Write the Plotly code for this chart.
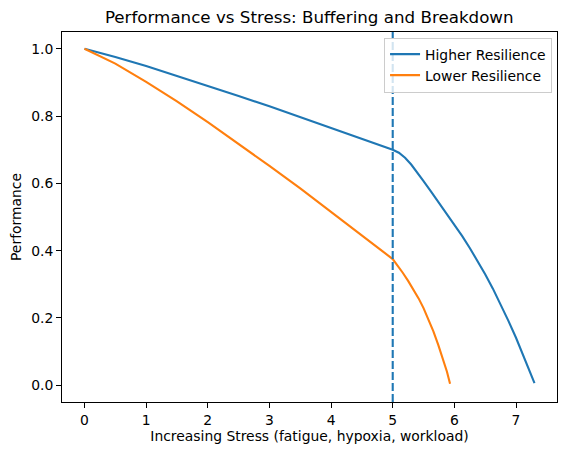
import plotly.graph_objects as go

stress_high = [0, 0.5, 1, 1.5, 2, 2.5, 3, 3.5, 4, 4.5, 4.8, 5, 5.1, 5.2, 5.3, 5.4, 5.5, 5.625, 5.75, 5.875,
               6.0, 6.125, 6.25, 6.375, 6.5, 6.625, 6.75, 6.875, 7.0, 7.15, 7.3]
perf_high = [1.0, 0.976, 0.949, 0.920, 0.890, 0.860, 0.829, 0.797, 0.765, 0.733, 0.713, 0.700,
             0.691, 0.676, 0.656, 0.633, 0.607, 0.575, 0.543, 0.511,
             0.478, 0.444, 0.408, 0.370, 0.330, 0.287, 0.241, 0.192, 0.141, 0.075, 0.006]
stress_low = [0, 0.5, 1, 1.5, 2, 2.5, 3, 3.5, 4, 4.5, 4.8, 5, 5.08, 5.16, 5.25, 5.33, 5.42, 5.5, 5.58,
              5.66, 5.74, 5.82, 5.88, 5.93]
perf_low = [1.0, 0.956, 0.902, 0.844, 0.782, 0.718, 0.652, 0.585, 0.516, 0.446, 0.403, 0.375,
            0.356, 0.335, 0.310, 0.286, 0.258, 0.229, 0.197, 0.160, 0.119, 0.076, 0.040, 0.004]
threshold = 5
x_ticks = [0, 1, 2, 3, 4, 5, 6, 7]
y_ticks = [0.0, 0.2, 0.4, 0.6, 0.8, 1.0]

font = "DejaVu Sans"
fs = 13.9
L, R, T, B = 61.5, 557, 32, 402.5
fig = go.Figure()
fig.add_trace(go.Scatter(x=stress_high, y=perf_high, mode="lines", name="Higher Resilience",
                         line=dict(color="#1f77b4", width=2.1)))
fig.add_trace(go.Scatter(x=stress_low, y=perf_low, mode="lines", name="Lower Resilience",
                         line=dict(color="#ff7f0e", width=2.1)))
fig.add_shape(type="line", x0=threshold, x1=threshold, xref="x", y0=0, y1=1, yref="paper",
              line=dict(color="#1f77b4", width=2.1, dash="8px,3px"))

fig.update_layout(
    width=567, height=455,
    margin=dict(l=L, r=567 - R, t=T, b=455 - B),
    paper_bgcolor="white", plot_bgcolor="white",
    font=dict(family=font, size=fs, color="black"),
    title=dict(text="Performance vs Stress: Buffering and Breakdown", x=(L + R) / 2 / 567,
               xanchor="center", y=1 - 17 / 455, yanchor="middle",
               font=dict(size=16.7, family=font, color="black")),
    showlegend=True,
    legend=dict(x=0.99, y=0.985, xanchor="right", yanchor="top",
                bgcolor="rgba(255,255,255,0.8)", bordercolor="#cccccc", borderwidth=1,
                font=dict(size=fs, family=font), tracegroupgap=0, itemwidth=30),
)
fig.update_xaxes(range=[-0.365, 7.665], tickvals=x_ticks, ticktext=[str(v) for v in x_ticks],
                 showgrid=False, zeroline=False, showline=True, linecolor="black", linewidth=1,
                 mirror=True, ticks="outside", ticklen=5, tickcolor="black",
                 tickfont=dict(size=fs), title=dict(text="Increasing Stress (fatigue, hypoxia, workload)",
                                                   font=dict(size=fs), standoff=3))
fig.update_yaxes(range=[-0.05, 1.05], tickvals=y_ticks, ticktext=[f"{v:.1f}" for v in y_ticks],
                 showgrid=False, zeroline=False, showline=True, linecolor="black", linewidth=1,
                 mirror=True, ticks="outside", ticklen=5, tickcolor="black",
                 tickfont=dict(size=fs), title=dict(text="Performance", font=dict(size=fs), standoff=6))

fig.write_html("out.html")
